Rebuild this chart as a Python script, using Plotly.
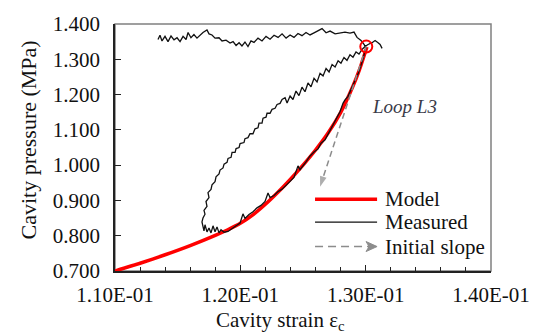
import plotly.graph_objects as go

# ---------------- data ----------------
strain_ticks = [0.110, 0.120, 0.130, 0.140]
strain_tick_labels = ["1.10E-01", "1.20E-01", "1.30E-01", "1.40E-01"]
pressure_ticks = [0.700, 0.800, 0.900, 1.000, 1.100, 1.200, 1.300, 1.400]
pressure_tick_labels = ["0.700", "0.800", "0.900", "1.000", "1.100", "1.200", "1.300", "1.400"]

model_strain = [0.1100, 0.1120, 0.1140, 0.1160, 0.1180, 0.1190, 0.1200, 0.1210, 0.1220,
                0.1230, 0.1240, 0.1250, 0.1260, 0.1270, 0.1280, 0.1290, 0.1295, 0.1301]
model_pressure = [0.700, 0.722, 0.746, 0.772, 0.801, 0.817, 0.835, 0.859, 0.889,
                  0.923, 0.960, 1.000, 1.043, 1.091, 1.149, 1.225, 1.270, 1.335]

measured_strain = [
    # creep at constant pressure
    0.11343, 0.11359, 0.11375, 0.11399, 0.11423, 0.11447, 0.11471, 0.11495, 0.11519, 0.11543,
    0.11567, 0.11583, 0.11606, 0.11630, 0.11654, 0.11678, 0.11702, 0.11734, 0.11750, 0.11774,
    0.11798, 0.11830, 0.11854, 0.11886, 0.11918, 0.11942, 0.11966, 0.11990, 0.12013, 0.12037,
    0.12061, 0.12085, 0.12109, 0.12141, 0.12173, 0.12205, 0.12237, 0.12269, 0.12301, 0.12333,
    0.12365, 0.12397, 0.12428, 0.12460, 0.12492, 0.12524, 0.12556, 0.12588, 0.12620, 0.12652,
    0.12684, 0.12716, 0.12756, 0.12796, 0.12835, 0.12875, 0.12907, 0.12931, 0.12963, 0.12987,
    0.13003,
    # unloading
    0.12971, 0.12939, 0.12915, 0.12883, 0.12859, 0.12835, 0.12819, 0.12796, 0.12764, 0.12732,
    0.12700, 0.12676, 0.12644, 0.12620, 0.12588, 0.12556, 0.12524, 0.12500, 0.12476, 0.12460,
    0.12428, 0.12397, 0.12365, 0.12333, 0.12301, 0.12269, 0.12237, 0.12221, 0.12197, 0.12165,
    0.12133, 0.12101, 0.12069, 0.12037, 0.12021, 0.11998, 0.11966, 0.11934, 0.11902, 0.11870,
    # low-pressure hold
    0.11846, 0.11830, 0.11814, 0.11798, 0.11782, 0.11766, 0.11750, 0.11734, 0.11718, 0.11710,
    0.11702, 0.11694, 0.11702,
    # reloading
    0.11718, 0.11710, 0.11734, 0.11726, 0.11750, 0.11742, 0.11766, 0.11774, 0.11798, 0.11806,
    0.11830, 0.11838, 0.11862, 0.11870, 0.11894, 0.11902, 0.11926, 0.11934, 0.11958, 0.11966,
    0.11990, 0.11998, 0.12029, 0.12037, 0.12061, 0.12077, 0.12101, 0.12117, 0.12141, 0.12149,
    0.12173, 0.12181, 0.12205, 0.12213, 0.12237, 0.12253, 0.12277, 0.12293, 0.12317, 0.12333,
    0.12357, 0.12373, 0.12397, 0.12420, 0.12444, 0.12468, 0.12492, 0.12516, 0.12540, 0.12564,
    0.12588, 0.12612, 0.12636, 0.12660, 0.12684, 0.12708, 0.12732, 0.12756, 0.12780, 0.12803,
    0.12827, 0.12851, 0.12875, 0.12899, 0.12923, 0.12947, 0.12971, 0.12995, 0.13019, 0.13051,
    0.13075, 0.13099, 0.13115, 0.13131,
]
measured_pressure = [
    1.356, 1.368, 1.352, 1.365, 1.350, 1.366, 1.355, 1.361, 1.350, 1.365,
    1.356, 1.376, 1.361, 1.370, 1.360, 1.369, 1.376, 1.383, 1.372, 1.369,
    1.360, 1.361, 1.352, 1.354, 1.346, 1.350, 1.339, 1.347, 1.338, 1.349,
    1.336, 1.352, 1.348, 1.360, 1.352, 1.365, 1.357, 1.368, 1.362, 1.372,
    1.360, 1.369, 1.362, 1.373, 1.367, 1.376, 1.369, 1.375, 1.380, 1.387,
    1.375, 1.380, 1.372, 1.375, 1.377, 1.374, 1.377, 1.362, 1.353, 1.342,
    1.333,
    1.292, 1.258, 1.240, 1.212, 1.195, 1.185, 1.175, 1.152, 1.130, 1.109,
    1.088, 1.072, 1.062, 1.046, 1.037, 1.026, 1.009, 0.998, 0.987, 0.998,
    0.965, 0.954, 0.943, 0.932, 0.925, 0.914, 0.908, 0.921, 0.897, 0.886,
    0.879, 0.868, 0.860, 0.849, 0.862, 0.836, 0.828, 0.819, 0.812, 0.810,
    0.817, 0.808, 0.825, 0.811, 0.828, 0.808, 0.822, 0.811, 0.831, 0.814,
    0.825, 0.839, 0.850,
    0.861, 0.872, 0.883, 0.897, 0.908, 0.922, 0.931, 0.944, 0.953, 0.967,
    0.975, 0.986, 0.992, 1.003, 1.008, 1.019, 1.022, 1.036, 1.036, 1.047,
    1.050, 1.061, 1.064, 1.075, 1.078, 1.089, 1.089, 1.103, 1.106, 1.119,
    1.119, 1.133, 1.136, 1.147, 1.147, 1.158, 1.161, 1.172, 1.175, 1.186,
    1.191, 1.176, 1.196, 1.186, 1.210, 1.197, 1.221, 1.208, 1.233, 1.222,
    1.246, 1.236, 1.260, 1.253, 1.274, 1.264, 1.285, 1.278, 1.296, 1.289,
    1.305, 1.297, 1.313, 1.306, 1.321, 1.315, 1.328, 1.336, 1.342, 1.347,
    1.353, 1.347, 1.342, 1.331,
]

slope_strain = [0.13005, 0.12636]
slope_pressure = [1.336, 0.939]

loop_point_strain = [0.13005]
loop_point_pressure = [1.336]

# ---------------- figure ----------------
FONT = "Liberation Serif"
RED = "#ff0000"
GRAY = "#8c8c8c"
INK = "#111111"

fig = go.Figure()

fig.add_trace(go.Scatter(x=model_strain, y=model_pressure, mode="lines", name="Model",
                         line=dict(color=RED, width=3.5, shape="spline", smoothing=0.5),
                         showlegend=False))
fig.add_trace(go.Scatter(x=measured_strain, y=measured_pressure, mode="lines", name="Measured",
                         line=dict(color=INK, width=1.3), showlegend=False))
fig.add_trace(go.Scatter(x=slope_strain, y=slope_pressure, mode="lines+markers",
                         name="Initial slope",
                         line=dict(color=GRAY, width=1.5, dash="6px,4px"),
                         marker=dict(symbol="arrow", size=[0, 11], color=GRAY,
                                     angleref="previous", line=dict(width=0)),
                         showlegend=False))
fig.add_trace(go.Scatter(x=loop_point_strain, y=loop_point_pressure, mode="markers",
                         marker=dict(symbol="circle-open", size=12, color=RED,
                                     line=dict(color=RED, width=2)),
                         showlegend=False, cliponaxis=False))

annotations = [
    dict(x=0.769, y=0.667, xref="paper", yref="paper", text="<i>Loop L3</i>", showarrow=False,
         xanchor="center", yanchor="middle",
         font=dict(family=FONT, size=19, color="#3a3a48")),
    dict(x=0.439, y=-0.202, xref="paper", yref="paper", text="Cavity strain ε<sub>c</sub>",
         showarrow=False, xanchor="center", yanchor="middle",
         font=dict(family=FONT, size=21, color=INK)),
    dict(x=-0.229, y=0.532, xref="paper", yref="paper", text="Cavity pressure (MPa)",
         showarrow=False, textangle=-90, xanchor="center", yanchor="middle",
         font=dict(family=FONT, size=22, color=INK)),
]

# manual legend (paper coordinates)
leg_x0, leg_x1, leg_tx = 0.532, 0.697, 0.713
leg_rows = [("Model", 0.290), ("Measured", 0.198), ("Initial slope", 0.099)]
shapes = [
    dict(type="line", xref="paper", yref="paper", x0=leg_x0, x1=leg_x1, y0=0.290, y1=0.290,
         line=dict(color=RED, width=3.5)),
    dict(type="line", xref="paper", yref="paper", x0=leg_x0, x1=leg_x1, y0=0.198, y1=0.198,
         line=dict(color=INK, width=1.3)),
    dict(type="line", xref="paper", yref="paper", x0=leg_x0, x1=leg_x1 - 0.02, y0=0.099, y1=0.099,
         line=dict(color=GRAY, width=1.5, dash="8px,5px")),
    # legend arrowhead, sized in pixels and anchored at the end of the legend line
    dict(type="path", xref="paper", yref="paper", xsizemode="pixel", ysizemode="pixel",
         xanchor=leg_x1, yanchor=0.099, path="M 0 0 L -11 5 L -8 0 L -11 -5 Z",
         fillcolor=GRAY, line=dict(color=GRAY, width=1)),
    # gray plot frame
    dict(type="rect", xref="paper", yref="paper", x0=0, x1=1, y0=0, y1=1,
         line=dict(color="#808080", width=1.5), layer="below"),
]
for label, yy in leg_rows:
    annotations.append(dict(x=leg_tx, y=yy, xref="paper", yref="paper", text=label,
                            showarrow=False, xanchor="left", yanchor="middle",
                            font=dict(family=FONT, size=21, color=INK)))

fig.update_layout(
    width=544, height=335,
    margin=dict(l=115, r=53, t=19, b=64),
    paper_bgcolor="white", plot_bgcolor="white",
    font=dict(family=FONT, size=21, color=INK),
    showlegend=False,
    annotations=annotations,
    shapes=shapes,
)
fig.update_xaxes(
    range=[0.110, 0.140], tickmode="array", tickvals=strain_ticks, ticktext=strain_tick_labels,
    ticks="inside", ticklen=6, tickwidth=1.3, tickcolor="#222222",
    minor=dict(dtick=0.002, ticks="inside", ticklen=4, tickwidth=1.3, tickcolor="#222222",
               showgrid=False),
    showline=True, linecolor="#222222", linewidth=1.5, showgrid=False, zeroline=False,
    ticklabelstandoff=4,
)
fig.update_yaxes(
    range=[0.700, 1.400], tickmode="array", tickvals=pressure_ticks, ticktext=pressure_tick_labels,
    ticks="inside", ticklen=6, tickwidth=1.3, tickcolor="#222222",
    showline=True, linecolor="#222222", linewidth=1.5, showgrid=False, zeroline=False,
    ticklabelstandoff=9,
)

fig.write_html("out.html", config={"displayModeBar": False},
               post_script="document.body.style.margin='0px';document.body.style.overflow='hidden';")
